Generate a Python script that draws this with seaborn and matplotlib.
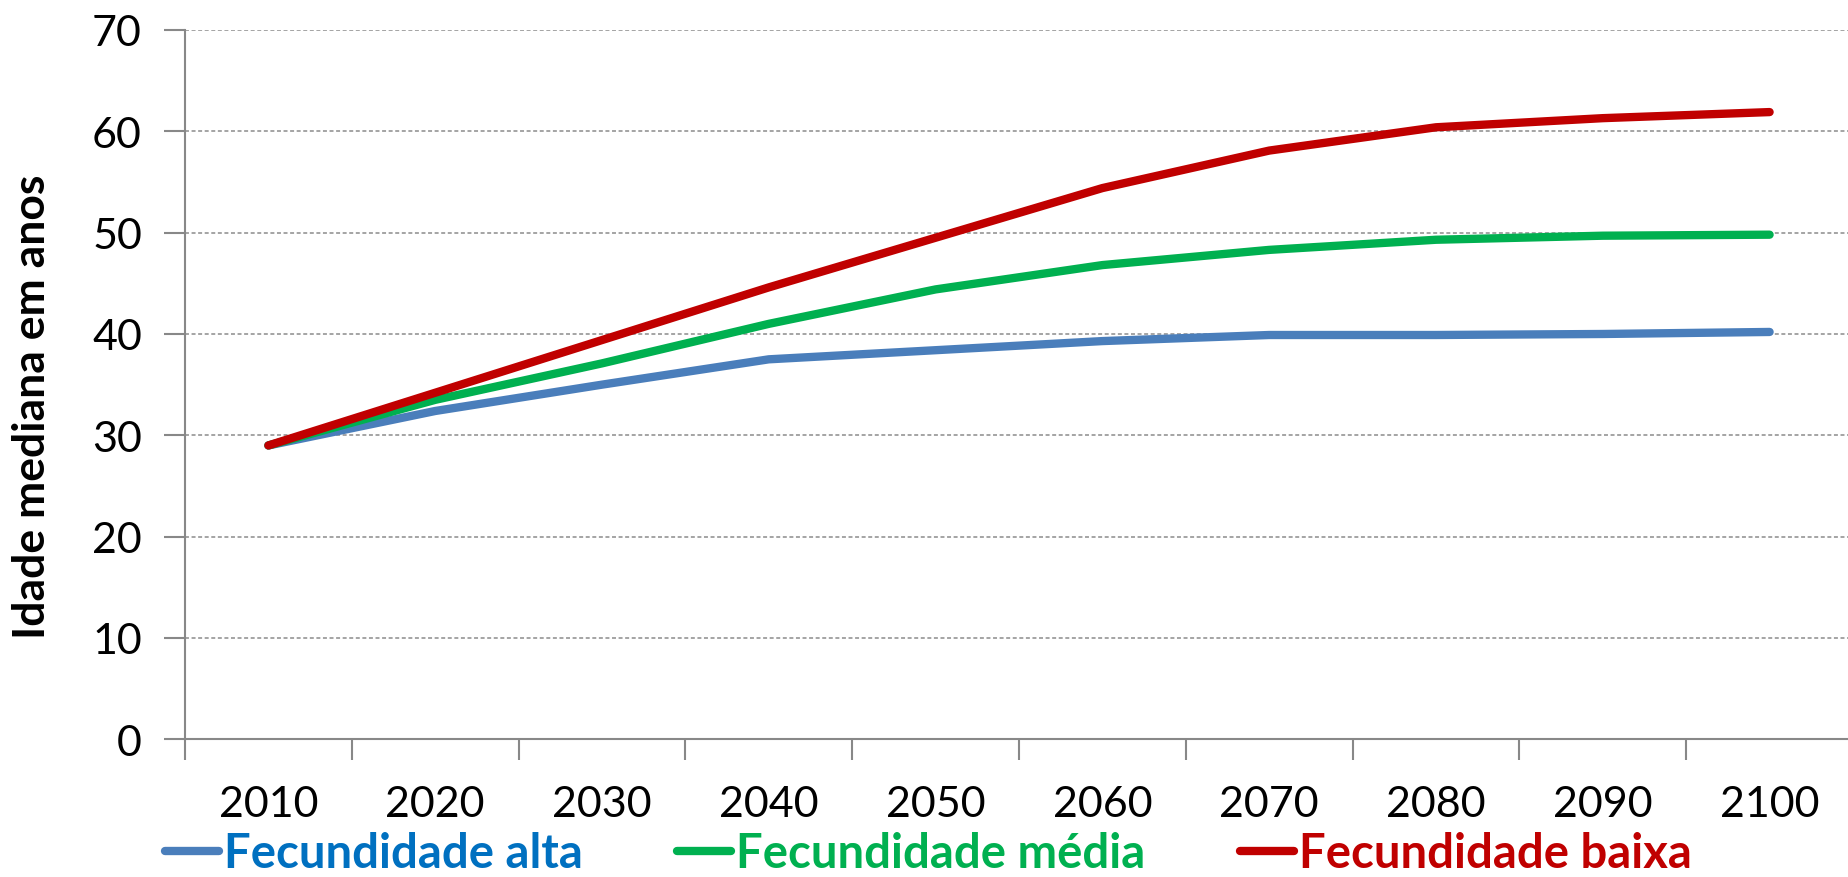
import matplotlib
matplotlib.use("Agg")
import matplotlib.pyplot as plt
from matplotlib.lines import Line2D
from matplotlib.ticker import FixedLocator
import pandas as pd
import seaborn as sns

# Median age projections by fertility scenario
years = [2010, 2020, 2030, 2040, 2050, 2060, 2070, 2080, 2090, 2100]
fec_alta = [29.0, 32.4, 35.0, 37.5, 38.4, 39.3, 39.9, 39.9, 40.0, 40.2]
fec_media = [29.0, 33.5, 37.1, 41.0, 44.4, 46.8, 48.3, 49.3, 49.7, 49.8]
fec_baixa = [29.0, 34.2, 39.4, 44.6, 49.5, 54.4, 58.1, 60.4, 61.3, 61.9]

series_names = ["Fecundidade alta", "Fecundidade média", "Fecundidade baixa"]
line_colors = ["#4A7EBB", "#00B050", "#C00000"]
text_colors = ["#0070C0", "#00B050", "#C00000"]
y_ticks = [0, 10, 20, 30, 40, 50, 60, 70]
y_label = "Idade mediana em anos"

df = pd.DataFrame({
    "ano": years * 3,
    "idade": fec_alta + fec_media + fec_baixa,
    "cenario": [series_names[0]] * len(years)
    + [series_names[1]] * len(years)
    + [series_names[2]] * len(years),
})

sns.set_theme(style="white")
plt.rcParams["font.family"] = ["Lato", "DejaVu Sans"]

fig = plt.figure(figsize=(18.49, 8.78), dpi=100)
ax = fig.add_axes([185 / 1849, 1 - 740.3 / 878, 1668 / 1849, 709.3 / 878])

sns.lineplot(
    data=df, x="ano", y="idade", hue="cenario", hue_order=series_names,
    palette=line_colors, linewidth=6.0, ax=ax, legend=False,
    solid_capstyle="round", solid_joinstyle="round", zorder=3,
)

ax.set_xlim(years[0] - 5, years[-1] + 5)
ax.set_ylim(y_ticks[0], y_ticks[-1])

# Category-style x axis: labels at centres, tick marks between categories
ax.set_xticks(years)
ax.set_xticklabels([str(y) for y in years])
ax.xaxis.set_minor_locator(FixedLocator([y - 5 for y in years] + [years[-1] + 5]))
ax.tick_params(axis="x", which="major", length=0, pad=33, labelsize=31, labelcolor="black")
ax.tick_params(axis="x", which="minor", length=15, width=1.5, color="#888888", bottom=True)

ax.set_yticks(y_ticks)
ax.tick_params(axis="y", which="major", length=15, width=1.5, color="#888888",
               pad=16, labelsize=31, labelcolor="black", left=True)

for yv in y_ticks[1:]:
    ax.axhline(yv, color="#8C8C8C", linewidth=1.1, linestyle=(0, (2.6, 1.7)), zorder=1)

for side in ["top", "right"]:
    ax.spines[side].set_visible(False)
for side in ["left", "bottom"]:
    ax.spines[side].set_color("#888888")
    ax.spines[side].set_linewidth(1.5)

ax.set_xlabel("")
ax.set_ylabel(y_label, fontsize=32, fontweight="bold", color="black",
              family=["Lato", "DejaVu Sans"])
ax.yaxis.label.set_va("center")
ax.yaxis.set_label_coords(-0.0915, 0.47)

handles = [
    Line2D([0], [0], color=c, linewidth=6.0, solid_capstyle="round")
    for c in line_colors
]
leg = fig.legend(
    handles, series_names, loc="center", bbox_to_anchor=(0.502, 0.027),
    ncol=3, frameon=False, handlelength=1.15, handletextpad=0.1,
    columnspacing=2.0, prop={"size": 34, "weight": "bold"},
    borderpad=0.0, borderaxespad=0.0,
)
for txt, c in zip(leg.get_texts(), text_colors):
    txt.set_color(c)

fig.savefig("out.png", dpi=100)
